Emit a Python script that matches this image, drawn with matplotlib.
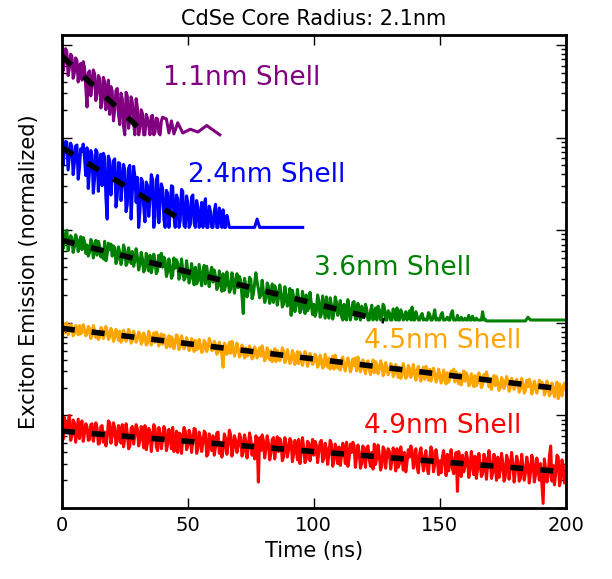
import numpy as np
import matplotlib
matplotlib.use("Agg")
import matplotlib.pyplot as plt

# ============================================================
# DATA
# log10(counts / max counts).
# *_int  : bins at t = 0, 1, 2, ... ns
# *_half : bins at t = 0.5, 1.5, ... ns
# each shell is shifted one decade below the previous one
# ============================================================

shell_labels = ["1.1nm Shell", "2.4nm Shell", "3.6nm Shell",
                "4.5nm Shell", "4.9nm Shell"]
shell_colors = ["purple", "blue", "green", "orange", "red"]
decade_offset = [0, -1, -2, -3, -4]

# ---------------- 1.1nm shell ----------------
s11_int = [-0.01, -0.18, -0.08, -0.25, -0.12, -0.30, -0.17, -0.22, -0.38, -0.24,
           -0.67, -0.28, -0.44, -0.31, -0.52, -0.36, -0.62, -0.40, -0.48, -0.75,
           -0.50, -0.70, -0.47, -0.86, -0.58, -0.97, -0.55, -0.78, -0.62, -0.97,
           -0.68, -0.90, -0.74, -0.97, -0.79, -0.97, -0.76, -0.94, -0.80, -0.97,
           -0.78]
s11_half = [-0.28, -0.04, -0.33, -0.10, -0.36, -0.14, -0.40, -0.20, -0.18, -0.45,
            -0.30, -0.55, -0.27, -0.60, -0.33, -0.68, -0.35, -0.70, -0.38, -0.45,
            -0.82, -0.49, -0.75, -0.52, -0.88, -0.51, -0.90, -0.56, -0.85, -0.58,
            -0.97, -0.70, -0.97, -0.75, -0.88, -0.77, -0.97, -0.79, -0.95, -0.82]
s11_tail_t = [41.5, 42.5, 43.5, 44.5, 46, 48, 51, 54, 57.5, 62.7]
s11_tail = [-0.80, -0.95, -0.82, -0.96, -0.84, -0.95, -0.91, -0.94, -0.87, -0.97]

# ---------------- 2.4nm shell ----------------
s24_int = [-0.02, -0.14, -0.05, -0.20, -0.10, -0.27, -0.08, -0.33, -0.15, -0.22,
           -0.11, -0.36, -0.19, -0.45, -0.16, -0.30, -0.52, -0.21, -0.88, -0.25,
           -0.40, -0.23, -0.63, -0.28, -0.50, -0.35, -0.72, -0.30, -0.58, -0.42,
           -0.43, -0.80, -0.47, -0.91, -0.52, -0.66, -0.45, -0.85, -0.41, -0.70,
           -0.55, -0.97, -0.60, -0.82, -0.53, -0.97, -0.66, -0.90, -0.58, -0.97,
           -0.70, -0.94, -0.62, -0.97, -0.75, -0.88, -0.97, -0.66, -0.97, -0.80,
           -0.97, -0.72, -0.97, -0.85, -0.78, -0.97, -0.90, -0.97]
s24_half = [-0.30, -0.04, -0.35, -0.06, -0.40, -0.09, -0.45, -0.12, -0.07, -0.41,
            -0.55, -0.14, -0.60, -0.13, -0.58, -0.18, -0.17, -0.65, -0.20, -0.62,
            -0.25, -0.75, -0.27, -0.68, -0.29, -0.80, -0.33, -0.88, -0.31, -0.70,
            -0.97, -0.44, -0.75, -0.48, -0.85, -0.40, -0.97, -0.46, -0.92, -0.50,
            -0.88, -0.57, -0.97, -0.52, -0.85, -0.62, -0.97, -0.56, -0.95, -0.63,
            -0.97, -0.64, -0.92, -0.68, -0.97, -0.70, -0.72, -0.97, -0.74, -0.97,
            -0.80, -0.97, -0.76, -0.97, -0.97, -0.84, -0.97]
s24_tail_t = [70, 76.5, 77.5, 78.5, 95.6]
s24_tail = [-0.97, -0.97, -0.88, -0.97, -0.97]

# ---------------- 3.6nm shell ----------------
s36_int = [-0.04, -0.12, 0.00, -0.15, -0.08, -0.18, -0.10, -0.14, -0.21, -0.12,
           -0.16, -0.24, -0.13, -0.20, -0.27, -0.17, -0.22, -0.12, -0.26, -0.21,
           -0.28, -0.19, -0.32, -0.24, -0.30, -0.21, -0.35, -0.27, -0.23, -0.33,
           -0.29, -0.37, -0.31, -0.42, -0.34, -0.27, -0.39, -0.33, -0.44, -0.36,
           -0.40, -0.33, -0.45, -0.38, -0.49, -0.41, -0.36, -0.47, -0.43, -0.51,
           -0.44, -0.52, -0.47, -0.40, -0.55, -0.49, -0.45, -0.58, -0.50, -0.46,
           -0.56, -0.50, -0.61, -0.53, -0.47, -0.60, -0.55, -0.64, -0.52, -0.58,
           -0.62, -0.55, -0.90, -0.59, -0.66, -0.53, -0.69, -0.46, -0.63, -0.70,
           -0.66, -0.74, -0.61, -0.71, -0.78, -0.65, -0.73, -0.68, -0.80, -0.70,
           -0.76, -0.92, -0.72, -0.81, -0.75, -0.86, -0.77, -0.70, -0.84, -0.79,
           -0.80, -0.88, -0.76, -0.91, -0.83, -0.72, -0.95, -0.81, -0.89, -0.78,
           -0.86, -0.93, -0.80, -0.97, -0.84, -0.90, -0.77, -0.96, -0.87, -0.82,
           -0.94, -0.85, -0.97, -0.81, -0.91, -0.97, -0.86, -0.93, -0.83, -0.97,
           -0.89, -0.97, -0.92, -0.84, -0.97, -0.90, -0.95, -0.97, -0.87, -0.83,
           -0.97, -0.93, -0.97, -0.90, -0.96, -0.97, -0.91, -0.97, -0.86, -0.95,
           -0.97, -0.89, -0.97, -0.94, -0.97, -0.87, -0.97, -0.92, -0.97, -0.97,
           -0.95, -0.97, -0.97, -0.93, -0.97, -0.97, -0.97, -0.88, -0.96, -0.98]
s36_half = [-0.20, -0.03, -0.22, -0.06, -0.24, -0.05, -0.23, -0.07, -0.08, -0.25,
            -0.28, -0.10, -0.30, -0.11, -0.12, -0.29, -0.31, -0.33, -0.14, -0.15,
            -0.17, -0.36, -0.18, -0.37, -0.16, -0.38, -0.19, -0.36, -0.39, -0.20,
            -0.43, -0.24, -0.45, -0.25, -0.44, -0.46, -0.26, -0.47, -0.27, -0.25,
            -0.29, -0.50, -0.31, -0.52, -0.30, -0.32, -0.53, -0.31, -0.54, -0.33,
            -0.57, -0.36, -0.59, -0.58, -0.37, -0.60, -0.38, -0.39, -0.61, -0.40,
            -0.43, -0.64, -0.44, -0.66, -0.65, -0.45, -0.67, -0.46, -0.68, -0.47,
            -0.50, -0.71, -0.52, -0.72, -0.51, -0.74, -0.58, -0.56, -0.73, -0.54,
            -0.78, -0.57, -0.79, -0.58, -0.60, -0.81, -0.59, -0.83, -0.61, -0.82,
            -0.63, -0.65, -0.88, -0.64, -0.89, -0.66, -0.90, -0.87, -0.67, -0.91,
            -0.93, -0.70, -0.94, -0.71, -0.95, -0.90, -0.73, -0.96, -0.72, -0.92,
            -0.76, -0.97, -0.95, -0.75, -0.97, -0.78, -0.96, -0.79, -0.97, -0.94,
            -0.80, -0.97, -0.88, -0.97, -0.84, -0.82, -0.97, -0.80, -0.97, -0.87,
            -0.97, -0.85, -0.97, -0.97, -0.86, -0.97, -0.88, -0.91, -0.97, -0.97,
            -0.88, -0.97, -0.92, -0.97, -0.97, -0.89, -0.97, -0.93, -0.97, -0.97,
            -0.91, -0.97, -0.96, -0.97, -0.90, -0.97, -0.97, -0.97, -0.94, -0.97,
            -0.97, -0.92, -0.97, -0.97, -0.95, -0.97, -0.97, -0.97, -0.98]
s36_tail_t = [170, 184, 185, 186, 200]
s36_tail = [-0.98, -0.98, -0.94, -0.97, -0.97]

# ---------------- 4.5nm shell ----------------
s45_int = [-0.02, -0.07, 0.00, -0.09, -0.04, -0.11, -0.06, -0.03, -0.10, -0.07,
           -0.12, -0.06, -0.14, -0.08, -0.11, -0.16, -0.07, -0.12, -0.09, -0.15,
           -0.10, -0.16, -0.12, -0.09, -0.18, -0.13, -0.15, -0.11, -0.19, -0.14,
           -0.17, -0.12, -0.20, -0.15, -0.22, -0.14, -0.18, -0.21, -0.13, -0.19,
           -0.23, -0.17, -0.21, -0.26, -0.18, -0.22, -0.15, -0.25, -0.20, -0.24,
           -0.21, -0.27, -0.23, -0.19, -0.28, -0.24, -0.30, -0.22, -0.26, -0.21,
           -0.29, -0.24, -0.31, -0.27, -0.48, -0.25, -0.30, -0.33, -0.26, -0.31,
           -0.28, -0.34, -0.30, -0.27, -0.35, -0.31, -0.37, -0.29, -0.33, -0.36,
           -0.32, -0.38, -0.34, -0.30, -0.37, -0.42, -0.33, -0.36, -0.31, -0.39,
           -0.36, -0.41, -0.34, -0.39, -0.44, -0.37, -0.40, -0.35, -0.43, -0.38,
           -0.42, -0.37, -0.45, -0.40, -0.47, -0.41, -0.38, -0.44, -0.50, -0.42,
           -0.45, -0.40, -0.48, -0.44, -0.42, -0.49, -0.46, -0.52, -0.43, -0.47,
           -0.49, -0.44, -0.51, -0.47, -0.54, -0.46, -0.50, -0.45, -0.53, -0.49,
           -0.52, -0.47, -0.55, -0.50, -0.48, -0.56, -0.51, -0.58, -0.49, -0.54,
           -0.55, -0.51, -0.58, -0.53, -0.61, -0.54, -0.50, -0.57, -0.55, -0.60,
           -0.56, -0.62, -0.58, -0.54, -0.60, -0.57, -0.64, -0.59, -0.55, -0.61,
           -0.63, -0.58, -0.66, -0.61, -0.57, -0.64, -0.60, -0.67, -0.62, -0.59,
           -0.65, -0.61, -0.68, -0.64, -0.70, -0.62, -0.66, -0.63, -0.69, -0.65,
           -0.68, -0.64, -0.71, -0.66, -0.73, -0.69, -0.65, -0.72, -0.68, -0.70,
           -0.71, -0.66, -0.74, -0.69, -0.76, -0.72, -0.70, -0.82, -0.73, -0.68,
           -0.72]
s45_half = [-0.12, -0.01, -0.13, -0.02, -0.14, -0.03, -0.13, -0.12, -0.02, -0.14,
            -0.04, -0.17, -0.03, -0.16, -0.18, -0.05, -0.17, -0.04, -0.18, -0.06,
            -0.20, -0.07, -0.19, -0.21, -0.08, -0.20, -0.07, -0.22, -0.09, -0.21,
            -0.10, -0.23, -0.11, -0.24, -0.09, -0.24, -0.11, -0.10, -0.25, -0.12,
            -0.13, -0.27, -0.14, -0.15, -0.28, -0.13, -0.29, -0.14, -0.28, -0.16,
            -0.30, -0.17, -0.31, -0.29, -0.18, -0.32, -0.19, -0.31, -0.17, -0.30,
            -0.20, -0.34, -0.21, -0.35, -0.22, -0.34, -0.21, -0.20, -0.36, -0.22,
            -0.37, -0.24, -0.38, -0.36, -0.25, -0.39, -0.26, -0.38, -0.27, -0.25,
            -0.41, -0.27, -0.40, -0.42, -0.28, -0.30, -0.41, -0.27, -0.43, -0.29,
            -0.44, -0.30, -0.45, -0.31, -0.32, -0.46, -0.31, -0.47, -0.33, -0.45,
            -0.34, -0.48, -0.35, -0.49, -0.34, -0.48, -0.50, -0.36, -0.35, -0.49,
            -0.51, -0.37, -0.52, -0.38, -0.53, -0.39, -0.38, -0.37, -0.53, -0.40,
            -0.55, -0.41, -0.56, -0.40, -0.42, -0.55, -0.41, -0.57, -0.43, -0.56,
            -0.44, -0.58, -0.45, -0.59, -0.60, -0.44, -0.60, -0.46, -0.59, -0.45,
            -0.62, -0.47, -0.63, -0.48, -0.47, -0.62, -0.63, -0.49, -0.64, -0.50,
            -0.65, -0.51, -0.66, -0.64, -0.52, -0.50, -0.53, -0.66, -0.67, -0.52,
            -0.54, -0.68, -0.55, -0.69, -0.68, -0.54, -0.70, -0.56, -0.53, -0.69,
            -0.72, -0.57, -0.58, -0.73, -0.59, -0.71, -0.58, -0.74, -0.60, -0.72,
            -0.61, -0.75, -0.60, -0.76, -0.62, -0.61, -0.77, -0.63, -0.76, -0.62,
            -0.64, -0.78, -0.63, -0.79, -0.65, -0.80, -0.64, -0.66, -0.79, -0.65]
s45_tail_t = []
s45_tail = []

# ---------------- 4.9nm shell ----------------
s49_int = [-0.10, -0.02, -0.18, 0.00, -0.22, -0.08, -0.16, -0.25, -0.06, -0.19,
           -0.12, -0.26, -0.09, -0.20, -0.14, -0.30, -0.11, -0.18, -0.24, -0.08,
           -0.22, -0.13, -0.28, -0.16, -0.10, -0.25, -0.19, -0.33, -0.12, -0.21,
           -0.15, -0.27, -0.20, -0.11, -0.30, -0.18, -0.24, -0.14, -0.38, -0.19,
           -0.26, -0.16, -0.31, -0.22, -0.13, -0.29, -0.40, -0.20, -0.25, -0.17,
           -0.33, -0.21, -0.27, -0.15, -0.36, -0.24, -0.30, -0.19, -0.42, -0.26,
           -0.22, -0.34, -0.18, -0.29, -0.38, -0.25, -0.31, -0.21, -0.36, -0.27,
           -0.33, -0.24, -0.40, -0.28, -0.35, -0.26, -0.31, -0.22, -0.72, -0.38,
           -0.27, -0.36, -0.30, -0.41, -0.24, -0.34, -0.39, -0.29, -0.45, -0.31,
           -0.37, -0.28, -0.42, -0.33, -0.26, -0.40, -0.35, -0.47, -0.30, -0.38,
           -0.43, -0.32, -0.39, -0.27, -0.46, -0.36, -0.41, -0.31, -0.49, -0.37,
           -0.34, -0.44, -0.38, -0.29, -0.47, -0.40, -0.33, -0.45, -0.39, -0.52,
           -0.42, -0.35, -0.48, -0.40, -0.31, -0.46, -0.43, -0.54, -0.37, -0.44,
           -0.39, -0.49, -0.42, -0.36, -0.52, -0.44, -0.40, -0.50, -0.45, -0.38,
           -0.47, -0.56, -0.41, -0.49, -0.44, -0.58, -0.46, -0.39, -0.52, -0.47,
           -0.49, -0.45, -0.53, -0.42, -0.50, -0.57, -0.46, -0.82, -0.48, -0.43,
           -0.55, -0.47, -0.60, -0.50, -0.44, -0.58, -0.52, -0.63, -0.46, -0.54,
           -0.49, -0.62, -0.53, -0.45, -0.59, -0.51, -0.66, -0.48, -0.56, -0.52,
           -0.60, -0.50, -0.68, -0.55, -0.62, -0.53, -0.61, -0.49, -0.64, -0.57,
           -0.52, -0.95, -0.58, -0.66, -0.33, -0.54, -0.62, -0.45, -0.70, -0.55,
           -0.60]
s49_half = [-0.26, -0.12, -0.07, -0.27, -0.05, -0.29, -0.04, -0.10, -0.28, -0.09,
            -0.27, -0.10, -0.28, -0.08, -0.31, -0.12, -0.29, -0.33, -0.06, -0.30,
            -0.08, -0.32, -0.11, -0.30, -0.34, -0.09, -0.36, -0.14, -0.31, -0.10,
            -0.33, -0.12, -0.35, -0.37, -0.14, -0.39, -0.10, -0.34, -0.13, -0.36,
            -0.12, -0.38, -0.15, -0.36, -0.39, -0.17, -0.19, -0.41, -0.13, -0.37,
            -0.16, -0.40, -0.14, -0.41, -0.18, -0.39, -0.17, -0.44, -0.20, -0.38,
            -0.43, -0.19, -0.41, -0.45, -0.20, -0.42, -0.16, -0.44, -0.22, -0.40,
            -0.20, -0.44, -0.21, -0.46, -0.19, -0.43, -0.47, -0.25, -0.24, -0.21,
            -0.46, -0.22, -0.48, -0.26, -0.47, -0.23, -0.25, -0.49, -0.24, -0.45,
            -0.25, -0.50, -0.27, -0.48, -0.52, -0.24, -0.51, -0.28, -0.49, -0.26,
            -0.28, -0.51, -0.29, -0.50, -0.30, -0.53, -0.27, -0.55, -0.31, -0.52,
            -0.54, -0.30, -0.52, -0.55, -0.31, -0.29, -0.56, -0.32, -0.57, -0.33,
            -0.56, -0.33, -0.55, -0.58, -0.53, -0.32, -0.59, -0.34, -0.57, -0.36,
            -0.58, -0.35, -0.60, -0.56, -0.34, -0.59, -0.61, -0.37, -0.33, -0.57,
            -0.36, -0.62, -0.35, -0.60, -0.38, -0.63, -0.34, -0.61, -0.37, -0.64,
            -0.62, -0.38, -0.65, -0.60, -0.37, -0.63, -0.40, -0.39, -0.66, -0.61,
            -0.40, -0.67, -0.39, -0.64, -0.68, -0.41, -0.66, -0.42, -0.69, -0.38,
            -0.68, -0.42, -0.70, -0.67, -0.41, -0.71, -0.43, -0.69, -0.40, -0.72,
            -0.44, -0.71, -0.42, -0.70, -0.45, -0.73, -0.43, -0.72, -0.46, -0.70,
            -0.74, -0.47, -0.72, -0.44, -0.71, -0.75, -0.43, -0.76, -0.48, -0.73]
s49_tail_t = []
s49_tail = []

int_bins = [s11_int, s24_int, s36_int, s45_int, s49_int]
half_bins = [s11_half, s24_half, s36_half, s45_half, s49_half]
tail_times = [s11_tail_t, s24_tail_t, s36_tail_t, s45_tail_t, s49_tail_t]
tail_vals = [s11_tail, s24_tail, s36_tail, s45_tail, s49_tail]

# single exponential fits (straight lines on the log axis)
fit_t_start = [0, 0, 0, 0, 0]
fit_t_end = [32.3, 48.8, 128, 200, 200]
fit_log_start = [-0.12, -0.11, -0.11, -0.06, -0.17]
fit_log_end = [-0.94, -0.91, -0.98, -0.72, -0.61]

# ============================================================
# PLOT
# ============================================================

fig = plt.figure(figsize=(6.12, 5.79), dpi=100)
ax = fig.add_axes([0.101, 0.1226, 0.8235, 0.817])

for i in range(len(shell_labels)):
    n = len(int_bins[i])
    dense = np.empty(2 * n - 1)
    dense[0::2] = int_bins[i]
    dense[1::2] = half_bins[i]
    t = np.concatenate([np.arange(2 * n - 1) * 0.5, tail_times[i]])
    logv = np.concatenate([dense, tail_vals[i]]) + decade_offset[i]
    ax.plot(t, 10 ** logv, color=shell_colors[i], lw=2.2)

for i in range(len(shell_labels)):
    ax.plot([fit_t_start[i], fit_t_end[i]],
            [10 ** (fit_log_start[i] + decade_offset[i]),
             10 ** (fit_log_end[i] + decade_offset[i])],
            color="black", lw=4, dashes=(2.35, 3.05))

# shell labels
label_pos = [(40, -0.356), (50, -1.404), (100, -2.408), (120, -3.196), (120, -4.114)]
for i, (tx, ly) in enumerate(label_pos):
    ax.text(tx, 10 ** ly, shell_labels[i], color=shell_colors[i],
            fontsize=19, ha="left", va="center")

ax.set_yscale("log")
ax.set_xlim(0, 200)
ax.set_ylim(1e-5, 10 ** 0.108)
ax.set_xticks([0, 50, 100, 150, 200])

ax.tick_params(which="both", direction="in", top=True, right=True,
               labelleft=False)
ax.tick_params(which="major", length=7, width=1, labelsize=14, pad=6)
ax.tick_params(which="minor", length=3.5, width=1)
for s in ax.spines.values():
    s.set_linewidth(2)

ax.set_xlabel("Time (ns)", fontsize=15)
ax.set_ylabel("Exciton Emission (normalized)", fontsize=15)
ax.yaxis.set_label_coords(-0.046, 0.5)
ax.set_title("CdSe Core Radius: 2.1nm", fontsize=15, pad=7)

fig.savefig("out.png", dpi=100)
